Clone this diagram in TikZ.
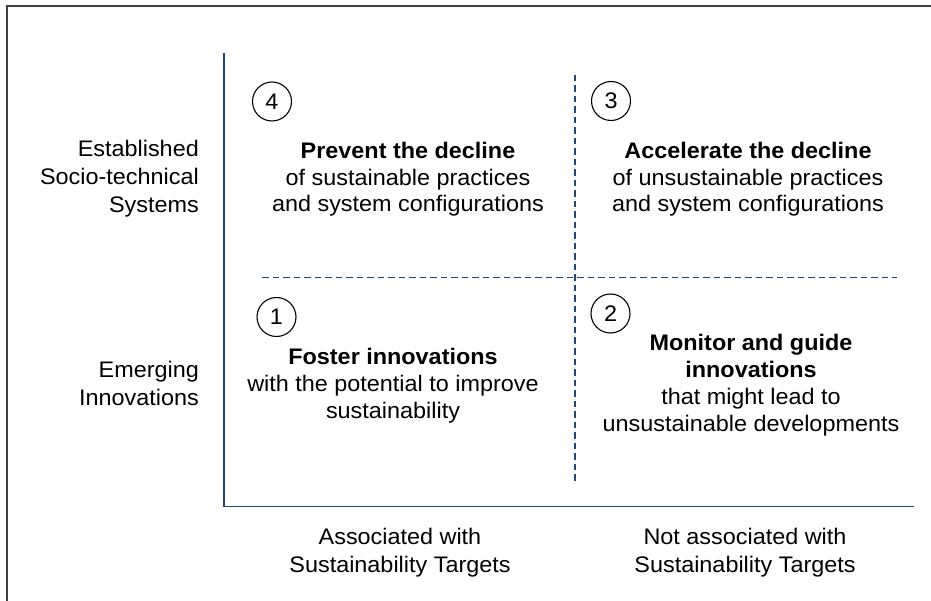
\documentclass[tikz,border=0pt]{standalone}
\usepackage{fontspec}
\setmainfont{Liberation Sans}[FakeStretch=1.04]
\definecolor{axisblue}{HTML}{1F4A78}
\definecolor{framegray}{HTML}{404040}
\begin{document}
\begin{tikzpicture}[x=1pt,y=-1pt,
  % multi-line nodes: the base anchor sits on the baseline of the last line
  quad/.style={font=\fontsize{22.5}{26.7}\selectfont, inner sep=0pt, align=center, anchor=base},
  rowlbl/.style={font=\fontsize{22.5}{28}\selectfont, inner sep=0pt, align=right, anchor=base east},
  collbl/.style={font=\fontsize{22.5}{28}\selectfont, inner sep=0pt, align=center, anchor=base},
  num/.style={circle, draw=black, line width=1.1pt, minimum size=39pt, inner sep=0pt,
              font=\fontsize{22.5}{26}\selectfont},
  axisline/.style={draw=axisblue, line width=1.6pt},
  divider/.style={draw=axisblue, line width=1.6pt, dash pattern=on 6.5pt off 4pt},
  framelines/.style={draw=framegray, line width=1.4pt}]

\useasboundingbox (0,0) rectangle (931,601);

% outer frame (top and left edges)
\draw[framelines] (7,601) -- (7,6) -- (931,6);

% axes
\coordinate (ytop) at (224,53);
\coordinate (origin) at (224,506.5);
\coordinate (xend) at (914,506.5);
\draw[axisline] (ytop) -- (origin) -- (xend);

% quadrant dividers
\coordinate (vtop) at (575,75);
\coordinate (vbot) at (575,482);
\coordinate (hleft) at (262,277.5);
\coordinate (hright) at (897,277.5);
\draw[divider] (vtop) -- (vbot);
\draw[divider] (hleft) -- (hright);

% numbered markers
\node[num] (n4) at (272,101.5) {4};
\node[num] (n3) at (611,101) {3};
\node[num] (n1) at (276.5,317) {1};
\node[num] (n2) at (610.5,313.5) {2};

% quadrant texts
\node[quad] (q4) at (408,212) {\textbf{Prevent the decline}\\of sustainable practices\\and system configurations};
\node[quad] (q3) at (748,212) {\textbf{Accelerate the decline}\\of unsustainable practices\\and system configurations};
\node[quad] (q1) at (393,418) {\textbf{Foster innovations}\\with the potential to improve\\sustainability};
\node[quad] (q2) at (751,431) {\textbf{Monitor and guide}\\\textbf{innovations}\\that might lead to\\unsustainable developments};

% row labels
\node[rowlbl] (established) at (199,213) {Established\\Socio-technical\\Systems};
\node[rowlbl] (emerging) at (199,405) {Emerging\\Innovations};

% column labels
\node[collbl] (assoc) at (400,572) {Associated with\\Sustainability Targets};
\node[collbl] (notassoc) at (745,572) {Not associated with\\Sustainability Targets};

\end{tikzpicture}
\end{document}
